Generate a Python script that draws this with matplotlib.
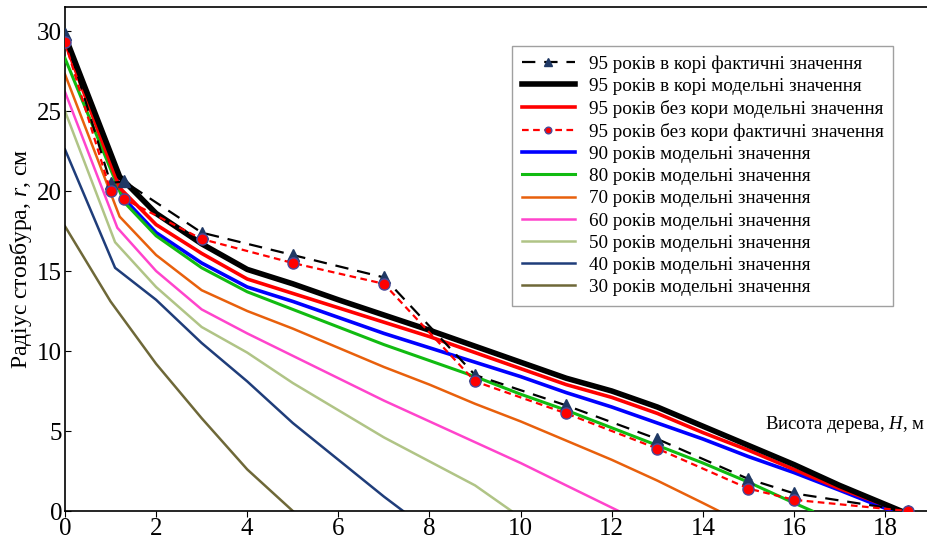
import matplotlib.pyplot as plt

plt.rcParams['font.family'] = ['Liberation Serif', 'DejaVu Serif']
plt.rcParams['mathtext.fontset'] = 'custom'
plt.rcParams['mathtext.it'] = 'Liberation Serif:italic'
plt.rcParams['mathtext.rm'] = 'Liberation Serif'

# фактичні значення (вимірювання)
h_fact = [0, 1.0, 1.3, 3, 5, 7, 9, 11, 13, 15, 16, 18.5]
r_bark_fact = [29.8, 20.5, 20.6, 17.4, 16.0, 14.6, 8.5, 6.6, 4.5, 2.0, 1.1, 0]
r_nobark_fact = [29.3, 20.0, 19.5, 17.0, 15.5, 14.2, 8.1, 6.1, 3.9, 1.4, 0.7, 0]

# модельні значення
h_95 = [0, 1.2, 2, 3, 4, 5, 6, 7, 8, 9, 10, 11, 12, 13, 14, 15, 16, 17, 18.35]
r_95_bark = [29.7, 20.9, 18.6, 16.7, 15.1, 14.2, 13.2, 12.25, 11.3, 10.3, 9.3, 8.3,
             7.5, 6.5, 5.3, 4.1, 2.9, 1.6, 0]
r_95_nobark = [29.3, 20.2, 17.9, 16.1, 14.5, 13.6, 12.7, 11.8, 10.9, 9.9, 8.9, 7.9,
               7.1, 6.1, 4.9, 3.8, 2.6, 1.4, 0]

h_90 = [0, 1.3, 2, 3, 4, 5, 6, 7, 8, 9, 10, 11, 12, 13, 14, 15, 16, 17, 18.15]
r_90 = [29.5, 19.5, 17.4, 15.5, 14.0, 13.1, 12.1, 11.1, 10.2, 9.3, 8.4, 7.4, 6.5,
        5.5, 4.5, 3.4, 2.4, 1.3, 0]

h_80 = [0, 1.3, 2, 3, 4, 5, 6, 7, 8, 9, 10, 11, 12, 13, 14, 15, 16, 16.4]
r_80 = [28.3, 19.3, 17.2, 15.2, 13.7, 12.6, 11.5, 10.4, 9.4, 8.4, 7.3, 6.3, 5.2,
        4.1, 3.0, 1.8, 0.5, 0]

h_70 = [0, 1.2, 2, 3, 4, 5, 6, 7, 8, 9, 10, 11, 12, 13, 14, 14.35]
r_70 = [27.3, 18.4, 16.0, 13.8, 12.5, 11.4, 10.2, 9.0, 7.9, 6.7, 5.6, 4.4, 3.2,
        1.9, 0.5, 0]

h_60 = [0, 1.15, 2, 3, 4, 5, 6, 7, 8, 9, 10, 11, 12.15]
r_60 = [26.2, 17.7, 15.0, 12.6, 11.1, 9.7, 8.3, 6.9, 5.6, 4.3, 3.0, 1.6, 0]

h_50 = [0, 1.1, 2, 3, 4, 5, 6, 7, 8, 9, 9.8]
r_50 = [25.0, 16.8, 14.0, 11.5, 9.9, 8.0, 6.3, 4.6, 3.1, 1.6, 0]

h_40 = [0, 1.1, 2, 3, 4, 5, 6, 7, 7.42]
r_40 = [22.6, 15.2, 13.2, 10.5, 8.1, 5.5, 3.2, 0.9, 0]

h_30 = [0, 1, 2, 3, 4, 5]
r_30 = [17.8, 13.1, 9.2, 5.8, 2.6, 0]

fig = plt.figure(figsize=(9.28, 5.4), dpi=100)
ax = fig.add_axes([0.070, 0.0537, 0.93, 0.9333])

ax.plot(h_fact, r_bark_fact, color='black', linestyle=(0, (6, 4)), linewidth=1.6,
        marker='^', markersize=9, markerfacecolor='#1f3864', markeredgecolor='#1f3864',
        label='95 років в корі фактичні значення', zorder=6)
ax.plot(h_95, r_95_bark, color='black', linewidth=4, label='95 років в корі модельні значення', zorder=5)
ax.plot(h_95, r_95_nobark, color='#ff0000', linewidth=2.6, label='95 років без кори модельні значення', zorder=4)
ax.plot(h_fact, r_nobark_fact, color='#ff0000', linestyle=(0, (3, 2)), linewidth=1.6,
        marker='o', markersize=8, markerfacecolor='#ff0000', markeredgecolor='#4a4a9a',
        label='95 років без кори фактичні значення', zorder=7)
ax.plot(h_90, r_90, color='#0000ff', linewidth=2.6, label='90 років модельні значення', zorder=3)
ax.plot(h_80, r_80, color='#11bb11', linewidth=2.2, label='80 років модельні значення', zorder=3)
ax.plot(h_70, r_70, color='#e8600c', linewidth=1.8, label='70 років модельні значення')
ax.plot(h_60, r_60, color='#ff44cc', linewidth=1.8, label='60 років модельні значення')
ax.plot(h_50, r_50, color='#b0c486', linewidth=1.8, label='50 років модельні значення')
ax.plot(h_40, r_40, color='#1f3d7a', linewidth=1.8, label='40 років модельні значення')
ax.plot(h_30, r_30, color='#6e6838', linewidth=1.8, label='30 років модельні значення')

ax.set_xlim(0, 18.94)
ax.set_ylim(0, 31.5)
ax.set_xticks(range(0, 19, 2))
ax.set_yticks(range(0, 31, 5))
ax.tick_params(axis='x', direction='out', length=4, labelsize=18, pad=1)
ax.tick_params(axis='y', direction='in', length=4, labelsize=18, pad=2)
ax.spines['right'].set_visible(False)
for s in ['left', 'bottom', 'top']:
    ax.spines[s].set_linewidth(1.2)

ax.set_ylabel('Радіус стовбура, $r$, см', fontsize=17, labelpad=2)
ax.text(15.36, 5.4, 'Висота дерева, $H$, м', fontsize=13.5, ha='left', va='center', clip_on=False)

leg = ax.legend(loc='upper left', bbox_to_anchor=(0.518, 0.923), borderaxespad=0,
                fontsize=13.8, frameon=True, fancybox=False, edgecolor='#888888',
                handlelength=2.8, handletextpad=0.7, labelspacing=0.25, borderpad=0.5,
                markerscale=0.6)
leg.get_frame().set_linewidth(1.0)

plt.savefig('out.png', dpi=100)
